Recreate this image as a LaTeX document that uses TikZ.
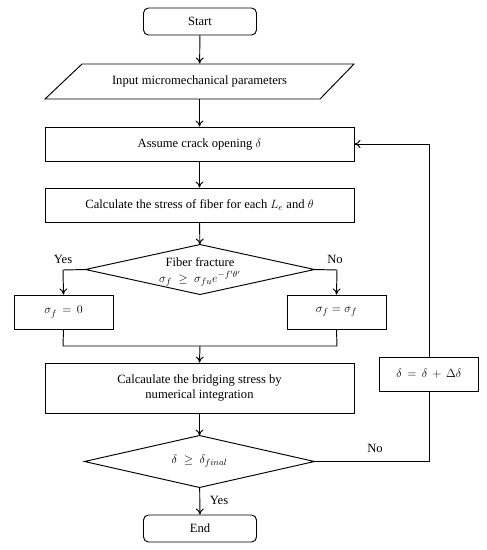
\documentclass[tikz,border=0pt]{standalone}
\usepackage{fontspec}
\setmainfont{Liberation Serif}
\usetikzlibrary{arrows.meta}
\begin{document}
\begin{tikzpicture}[x=1pt,y=-1pt,
  font=\fontsize{12.6}{15}\selectfont,
  every path/.style={line width=0.95pt},
  arr/.style={-{To[length=6pt,width=8pt]}},
  proc/.style={draw, minimum width=309pt, minimum height=34pt, inner sep=0pt, align=center},
  term/.style={draw, rounded corners=5pt, minimum width=113pt, minimum height=27pt, inner sep=0pt},
  ghost/.style={inner sep=0pt, align=center},
  small/.style={draw, minimum width=99pt, minimum height=34pt, inner sep=0pt}]
\useasboundingbox (0,0) rectangle (487,550);

\node[term] (start) at (200,21.5) {Start};
\node[ghost, minimum width=274pt, minimum height=35pt] (input) at (199.5,81.5) {Input micromechanical parameters};
\draw (82,64) -- (354,64) -- (320,99) -- (45,99) -- cycle;
\node[proc] (assume) at (199.5,144) {Assume crack opening $\delta$};
\node[proc] (calc) at (199.5,205) {Calculate the stress of fiber for each $L_e$ and $\theta$};
\node[ghost, minimum width=228pt, minimum height=49pt] (d1) at (200,269.5) {};
\node[ghost] (d1a) at (200,262) {Fiber fracture};
\node[ghost] (d1b) at (200,278.5) {$\sigma_f\ \geq\ \sigma_{fu}e^{-f'\theta'}$};
\draw (d1.north) -- (d1.east) -- (d1.south) -- (d1.west) -- cycle;
\node[small] (s0) at (63.5,312) {$\sigma_f\,=\,0$};
\node[small] (s1) at (336.5,312) {$\sigma_f = \sigma_f$};
\node[proc, minimum height=50pt] (bridge) at (199.5,388) {Calcaulate the bridging stress by\\numerical integration};
\node[ghost, minimum width=229pt, minimum height=51pt] (d2) at (199.5,461.5) {$\delta\ \geq\ \delta_{final}$};
\draw (d2.north) -- (d2.east) -- (d2.south) -- (d2.west) -- cycle;
\node[term] (end) at (200,528.5) {End};
\node[small] (inc) at (429,374) {$\delta\,=\,\delta\,+\,\Delta\delta$};

\coordinate (yl) at (63,270);
\coordinate (nr) at (337,270);
\coordinate (ml) at (63,346);
\coordinate (mr) at (337,346);
\coordinate (m) at (200,346);
\coordinate (lb) at (429,461.5);
\coordinate (lt) at (429,144);

\draw[arr] (start) -- (input);
\draw[arr] (input) -- (assume);
\draw[arr] (assume) -- (calc);
\draw[arr] (calc) -- (d1);
\draw[arr] (d1.west) -- (yl) -- (s0.north);
\draw[arr] (d1.east) -- (nr) -- (s1.north);
\draw (s0.south) -- (ml) -- (mr) -- (s1.south);
\draw[arr] (m) -- (bridge.north);
\draw[arr] (bridge) -- (d2);
\draw[arr] (d2) -- (end);
\draw (d2.east) -- (lb) -- (inc.south);
\draw[arr] (inc.north) -- (lt) -- (assume.east);

\node[ghost] (yes1) at (63,259) {Yes};
\node[ghost] (no1) at (335,259) {No};
\node[ghost] (yes2) at (219,500) {Yes};
\node[ghost] (no2) at (375,448) {No};
\end{tikzpicture}
\end{document}
